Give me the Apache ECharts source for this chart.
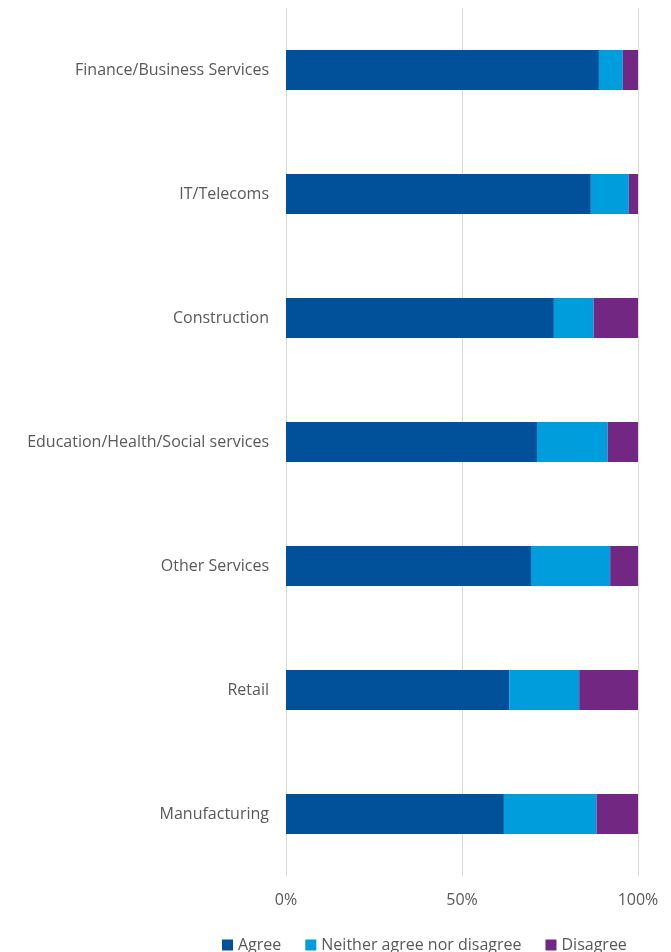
<!DOCTYPE html>
<html>
<head>
<meta charset="utf-8">
<script src="https://cdn.jsdelivr.net/npm/echarts@6/dist/echarts.min.js"></script>
<style>
  html, body { margin: 0; padding: 0; background: #fff; }
  #chart { width: 671px; height: 952px; }
</style>
</head>
<body>
<div id="chart"></div>
<script>
// sectors, top to bottom
var sectors = ['Finance/Business Services', 'IT/Telecoms', 'Construction',
  'Education/Health/Social services', 'Other Services', 'Retail', 'Manufacturing'];

// shares in %
var agree    = [88.9, 86.6, 76.1, 71.3, 69.6, 63.4, 61.9];
var neither  = [6.8, 10.8, 11.3, 20.1, 22.5, 19.9, 26.3];
var disagree = [4.3, 2.6, 12.6, 8.6, 7.9, 16.7, 11.8];

var myChart = echarts.init(document.getElementById('chart'));

var labelFont = '"Open Sans", sans-serif';

var option = {
  animation: false,
  textStyle: { fontFamily: labelFont },
  grid: {
    left: 286,
    right: 33,
    top: 8,
    bottom: 76
  },
  legend: {
    left: 217,
    top: 932,
    itemWidth: 11,
    itemHeight: 11,
    itemGap: 24,
    icon: 'rect',
    textStyle: { fontSize: 16, color: '#595959', fontFamily: labelFont },
    data: ['Agree', 'Neither agree nor disagree', 'Disagree']
  },
  xAxis: {
    type: 'value',
    min: 0,
    max: 100,
    interval: 50,
    axisLine: { show: false },
    axisTick: { show: false },
    axisLabel: {
      formatter: '{value}%',
      fontSize: 16,
      color: '#595959',
      margin: 16
    },
    splitLine: { lineStyle: { color: '#d9d9d9', width: 1 } }
  },
  yAxis: {
    type: 'category',
    inverse: true,
    data: sectors,
    axisLine: { show: false },
    axisTick: { show: false },
    axisLabel: { fontSize: 16, color: '#595959', margin: 17 }
  },
  series: [
    {
      name: 'Agree',
      type: 'bar',
      stack: 'total',
      barWidth: 40,
      itemStyle: { color: '#00509a' },
      data: agree
    },
    {
      name: 'Neither agree nor disagree',
      type: 'bar',
      stack: 'total',
      barWidth: 40,
      itemStyle: { color: '#009ddc' },
      data: neither
    },
    {
      name: 'Disagree',
      type: 'bar',
      stack: 'total',
      barWidth: 40,
      itemStyle: { color: '#722882' },
      data: disagree
    }
  ]
};

myChart.setOption(option);
</script>
</body>
</html>
